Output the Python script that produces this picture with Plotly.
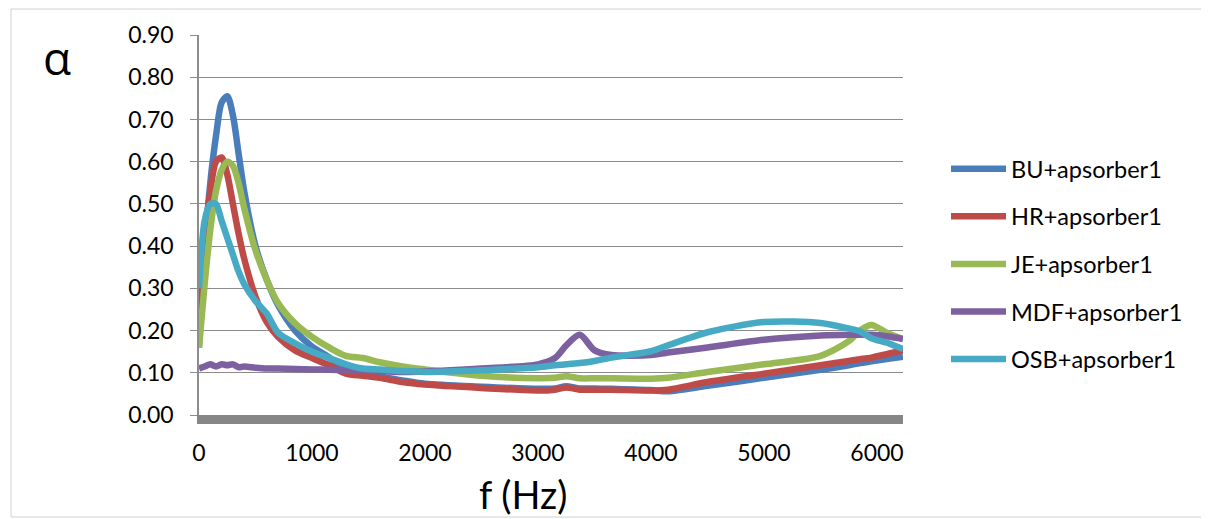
import plotly.graph_objects as go

freq = [0, 50, 100, 150, 200, 250, 300, 350, 400, 500, 600, 700, 850, 1000, 1150,
        1300, 1450, 1600, 1800, 2000, 2500, 3000, 3150, 3250, 3370, 3500, 3650,
        4000, 4150, 4500, 5000, 5500, 5750, 5850, 5950, 6100, 6230]

bu = [0.16, 0.39, 0.55, 0.66, 0.74, 0.755, 0.71, 0.62, 0.53, 0.40, 0.32, 0.26, 0.20, 0.162, 0.137,
      0.105, 0.100, 0.092, 0.082, 0.074, 0.067, 0.062, 0.063, 0.068, 0.063, 0.063, 0.062,
      0.059, 0.056, 0.069, 0.088, 0.107, 0.118, 0.123, 0.127, 0.133, 0.138]

hr = [0.25, 0.42, 0.53, 0.60, 0.61, 0.57, 0.50, 0.43, 0.37, 0.28, 0.22, 0.185, 0.153, 0.135, 0.118,
      0.098, 0.093, 0.088, 0.078, 0.072, 0.064, 0.058, 0.060, 0.065, 0.060, 0.060, 0.060,
      0.058, 0.060, 0.078, 0.098, 0.118, 0.128, 0.132, 0.136, 0.145, 0.153]

je = [0.16, 0.31, 0.44, 0.53, 0.58, 0.60, 0.59, 0.55, 0.49, 0.39, 0.32, 0.265, 0.217, 0.185, 0.160,
      0.140, 0.135, 0.125, 0.115, 0.108, 0.093, 0.087, 0.088, 0.092, 0.087, 0.087, 0.087,
      0.086, 0.088, 0.102, 0.120, 0.140, 0.175, 0.200, 0.213, 0.193, 0.180]

mdf = [0.11, 0.115, 0.12, 0.115, 0.12, 0.118, 0.12, 0.113, 0.115, 0.112, 0.110, 0.110, 0.109, 0.108, 0.107,
       0.106, 0.105, 0.104, 0.102, 0.103, 0.110, 0.120, 0.135, 0.165, 0.190, 0.153, 0.142,
       0.142, 0.148, 0.160, 0.178, 0.188, 0.190, 0.190, 0.190, 0.186, 0.180]

osb = [0.30, 0.46, 0.50, 0.50, 0.46, 0.42, 0.38, 0.34, 0.31, 0.27, 0.24, 0.195, 0.170, 0.150, 0.135,
       0.120, 0.110, 0.108, 0.104, 0.102, 0.106, 0.113, 0.118, 0.120, 0.123, 0.128, 0.136,
       0.151, 0.165, 0.196, 0.220, 0.218, 0.205, 0.198, 0.182, 0.170, 0.156]

series_names = ["BU+apsorber1", "HR+apsorber1", "JE+apsorber1", "MDF+apsorber1", "OSB+apsorber1"]
series_values = [bu, hr, je, mdf, osb]
series_colors = ["#4A7EBB", "#BE4B48", "#98B954", "#7D60A0", "#46AAC5"]

y_ticks = [0.0, 0.1, 0.2, 0.3, 0.4, 0.5, 0.6, 0.7, 0.8, 0.9]
x_ticks = [0, 1000, 2000, 3000, 4000, 5000, 6000]

FONT = "Lato, 'Open Sans', sans-serif"

# page has an 8px body margin; positions below are given in screenshot pixels
OFF = 8
W, H = 1209, 519
PL, PR, PT, PB = 199, 903, 35, 415          # plot area in screenshot pixels
L, R, T, B = PL - OFF, W - (PR - OFF), PT - OFF, H - (PB - OFF)
pw, ph = PR - PL, PB - PT


def px(x):
    return (x - PL) / pw


def py(y):
    return (PB - y) / ph


fig = go.Figure()
for i, (name, vals, col) in enumerate(zip(series_names, series_values, series_colors)):
    fig.add_trace(go.Scatter(
        x=freq, y=vals, name=name, mode="lines",
        line=dict(color=col, width=6.5, shape="spline", smoothing=0.8),
        legendgroup=f"g{i}",
    ))

fig.update_layout(
    width=W, height=H,
    margin=dict(l=L, r=R, t=T, b=B),
    paper_bgcolor="white", plot_bgcolor="white",
    font=dict(family=FONT, size=23, color="black"),
    showlegend=True,
    legend=dict(
        x=px(946), xanchor="left",
        y=py(147), yanchor="top",
        font=dict(size=23.5, family=FONT),
        itemwidth=55, tracegroupgap=14,
        bgcolor="rgba(0,0,0,0)",
    ),
    xaxis=dict(
        range=[0, 6230], tickvals=x_ticks, ticktext=[str(v) for v in x_ticks],
        showgrid=False, zeroline=False,
        showline=True, linecolor="#868686", linewidth=9,
        ticks="", ticklabelstandoff=9,
        tickfont=dict(size=23, family=FONT),
    ),
    yaxis=dict(
        range=[0, 0.9], tickvals=y_ticks, ticktext=[f"{v:.2f}" for v in y_ticks],
        showgrid=True, gridcolor="#8c8c8c", gridwidth=1,
        zeroline=False,
        showline=True, linecolor="#8c8c8c", linewidth=1.5,
        ticks="outside", ticklen=7, tickcolor="#8c8c8c", tickwidth=1,
        ticklabelstandoff=12,
        tickfont=dict(size=23, family=FONT),
    ),
)

fig.add_shape(type="rect", xref="paper", yref="paper",
              x0=px(11), x1=px(1225), y0=py(517), y1=py(9),
              line=dict(color="#d0d0d0", width=1), fillcolor="rgba(0,0,0,0)", layer="below")

fig.add_annotation(text="α", xref="paper", yref="paper",
                   x=px(57), y=py(57), xanchor="center", yanchor="middle",
                   showarrow=False, font=dict(size=46, family="'Open Sans', sans-serif", color="black"))
fig.add_annotation(text="f (Hz)", xref="paper", yref="paper",
                   x=px(523), y=py(518), xanchor="center", yanchor="bottom",
                   showarrow=False, borderpad=0,
                   font=dict(size=38, family=FONT, color="black"))

fig.write_html("out.html")
